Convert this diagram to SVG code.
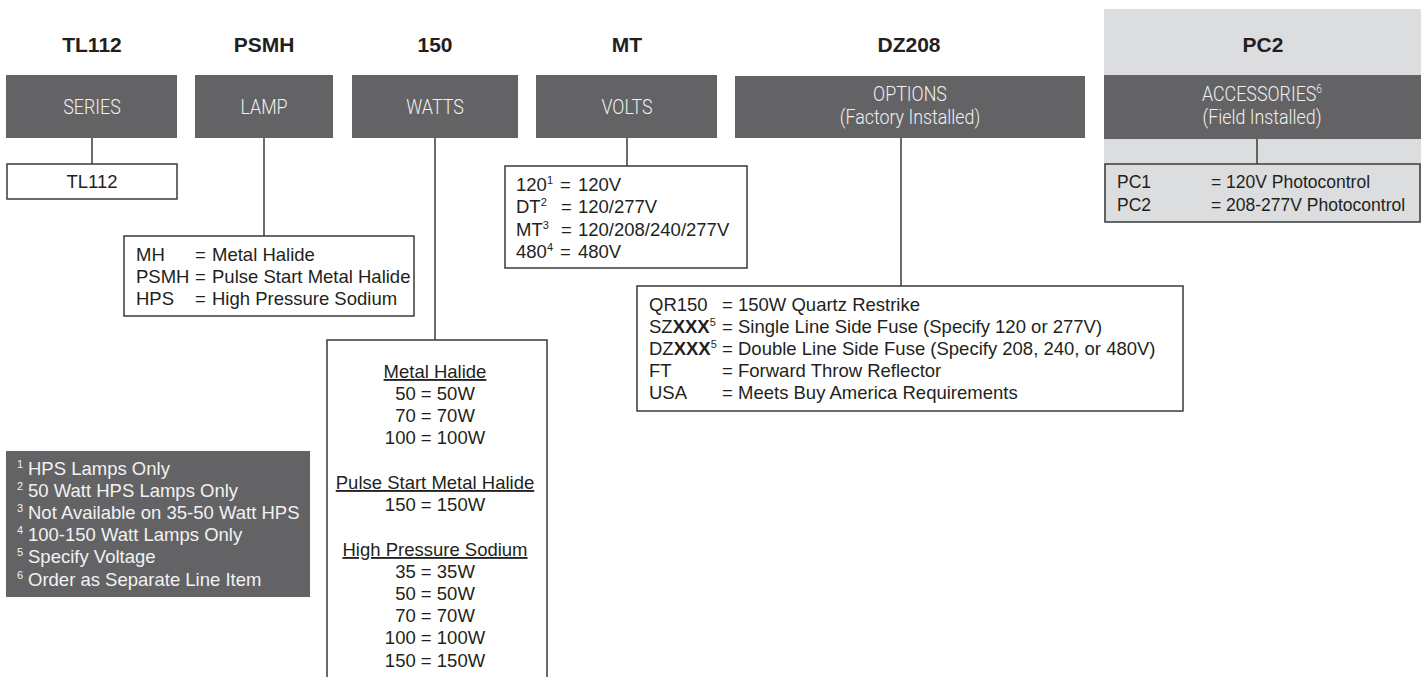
<svg xmlns="http://www.w3.org/2000/svg" width="1421" height="677" viewBox="0 0 1421 677">
<style>
.bg{fill:#ffffff}
.panel{fill:#dcdddf}
.hdr{fill:#636365}
.box{fill:#ffffff;stroke:#3a3a3a;stroke-width:1.5}
.pbox{fill:#dcdddf;stroke:#3a3a3a;stroke-width:1.5}
.code{font-family:"Liberation Sans",Arial,sans-serif;font-weight:bold;font-size:21px;fill:#231f20;text-anchor:middle}
.hd{font-family:Roboto,"Liberation Sans",sans-serif;font-weight:300;font-size:21px;fill:#f0f0f0;text-anchor:middle}
.t{font-family:"Liberation Sans",Arial,sans-serif;font-size:18.5px;fill:#231f20}
.ts{font-family:"Liberation Sans",Arial,sans-serif;font-size:17.5px;fill:#231f20}
.c{text-anchor:middle}
.fn{font-family:"Liberation Sans",Arial,sans-serif;font-size:18.5px;fill:#f2f2f2}
.fs{font-family:"Liberation Sans",Arial,sans-serif;font-size:11px;fill:#f2f2f2}
.u{text-decoration:underline}
.ln{stroke:#3a3a3a;stroke-width:1.5;fill:none}
</style>
<rect class="bg" x="0" y="0" width="1421" height="677"/>

<g id="accessories-panel">
<rect class="panel" x="1104" y="9" width="317" height="213"/>
</g>

<g id="connectors">
<line class="ln" x1="92" y1="138" x2="92" y2="164"/>
<line class="ln" x1="264" y1="138" x2="264" y2="236"/>
<line class="ln" x1="435" y1="138" x2="435" y2="340"/>
<line class="ln" x1="627" y1="138" x2="627" y2="166"/>
<line class="ln" x1="901" y1="138" x2="901" y2="286"/>
<line class="ln" x1="1257" y1="138" x2="1257" y2="164"/>
</g>

<g id="series">
<text class="code" x="92" y="52">TL112</text>
<rect class="hdr" x="6" y="75" width="171" height="63"/>
<text class="hd" transform="translate(92,114) scale(0.85,1)">SERIES</text>
<rect class="box" x="7" y="164" width="170" height="35"/>
<text class="t c" x="92" y="188">TL112</text>
</g>

<g id="lamp">
<text class="code" x="264" y="52">PSMH</text>
<rect class="hdr" x="195" y="75" width="138" height="63"/>
<text class="hd" transform="translate(264,114) scale(0.85,1)">LAMP</text>
<rect class="box" x="124" y="236" width="290" height="80"/>
<text class="t" x="136" y="261">MH</text><text class="t" x="195" y="261">=</text><text class="t" x="212" y="261">Metal Halide</text>
<text class="t" x="136" y="283">PSMH</text><text class="t" x="195" y="283">=</text><text class="t" x="212" y="283">Pulse Start Metal Halide</text>
<text class="t" x="136" y="305">HPS</text><text class="t" x="195" y="305">=</text><text class="t" x="212" y="305">High Pressure Sodium</text>
</g>

<g id="watts">
<text class="code" x="435" y="52">150</text>
<rect class="hdr" x="352" y="75" width="166" height="63"/>
<text class="hd" transform="translate(435,114) scale(0.85,1)">WATTS</text>
<rect class="box" x="327" y="340" width="220" height="360"/>
<text class="t c u" x="435" y="378">Metal Halide</text>
<text class="t c" x="435" y="400">50 = 50W</text>
<text class="t c" x="435" y="422">70 = 70W</text>
<text class="t c" x="435" y="444">100 = 100W</text>
<text class="t c u" x="435" y="489">Pulse Start Metal Halide</text>
<text class="t c" x="435" y="511">150 = 150W</text>
<text class="t c u" x="435" y="556">High Pressure Sodium</text>
<text class="t c" x="435" y="578">35 = 35W</text>
<text class="t c" x="435" y="600">50 = 50W</text>
<text class="t c" x="435" y="622">70 = 70W</text>
<text class="t c" x="435" y="644">100 = 100W</text>
<text class="t c" x="435" y="667">150 = 150W</text>
</g>

<g id="volts">
<text class="code" x="627" y="52">MT</text>
<rect class="hdr" x="536" y="75" width="181" height="63"/>
<text class="hd" transform="translate(627,114) scale(0.85,1)">VOLTS</text>
<rect class="box" x="505" y="166" width="242" height="102"/>
<text class="t" x="516" y="191">120<tspan font-size="11" dy="-7">1</tspan></text><text class="t" x="560" y="191">=</text><text class="t" x="578" y="191">120V</text>
<text class="t" x="516" y="213">DT<tspan font-size="11" dy="-7">2</tspan></text><text class="t" x="561" y="213">=</text><text class="t" x="578" y="213">120/277V</text>
<text class="t" x="516" y="236">MT<tspan font-size="11" dy="-7">3</tspan></text><text class="t" x="561" y="236">=</text><text class="t" x="578" y="236">120/208/240/277V</text>
<text class="t" x="516" y="258">480<tspan font-size="11" dy="-7">4</tspan></text><text class="t" x="560" y="258">=</text><text class="t" x="578" y="258">480V</text>
</g>

<g id="options">
<text class="code" x="909" y="52">DZ208</text>
<rect class="hdr" x="735" y="76" width="350" height="62"/>
<text class="hd" transform="translate(910,101) scale(0.85,1)">OPTIONS</text>
<text class="hd" transform="translate(910,124) scale(0.85,1)">(Factory Installed)</text>
<rect class="box" x="637" y="286" width="546" height="125"/>
<text class="t" x="649" y="311">QR150</text><text class="t" x="722" y="311">=</text><text class="t" x="738" y="311">150W Quartz Restrike</text>
<text class="t" x="649" y="333">SZ<tspan font-weight="bold">XXX</tspan><tspan font-size="11" dy="-7">5</tspan></text><text class="t" x="722" y="333">=</text><text class="t" x="738" y="333">Single Line Side Fuse (Specify 120 or 277V)</text>
<text class="t" x="649" y="355">DZ<tspan font-weight="bold">XXX</tspan><tspan font-size="11" dy="-7">5</tspan></text><text class="t" x="722" y="355">=</text><text class="t" x="738" y="355">Double Line Side Fuse (Specify 208, 240, or 480V)</text>
<text class="t" x="649" y="377">FT</text><text class="t" x="722" y="377">=</text><text class="t" x="738" y="377">Forward Throw Reflector</text>
<text class="t" x="649" y="399">USA</text><text class="t" x="722" y="399">=</text><text class="t" x="738" y="399">Meets Buy America Requirements</text>
</g>

<g id="accessories">
<text class="code" x="1263" y="52">PC2</text>
<rect class="hdr" x="1104" y="75" width="317" height="64"/>
<text class="hd" transform="translate(1262,101) scale(0.85,1)">ACCESSORIES<tspan font-size="12" dy="-8">6</tspan></text>
<text class="hd" transform="translate(1262,124) scale(0.85,1)">(Field Installed)</text>
<rect class="pbox" x="1105" y="164" width="315" height="58"/>
<text class="ts" x="1117" y="188">PC1</text><text class="ts" x="1211" y="188">= 120V Photocontrol</text>
<text class="ts" x="1117" y="211">PC2</text><text class="ts" x="1211" y="211">= 208-277V Photocontrol</text>
</g>

<g id="footnotes">
<rect class="hdr" x="6" y="451" width="304" height="146"/>
<text class="fs" x="17" y="468">1</text><text class="fn" x="28" y="475">HPS Lamps Only</text>
<text class="fs" x="17" y="490">2</text><text class="fn" x="28" y="497">50 Watt HPS Lamps Only</text>
<text class="fs" x="17" y="512">3</text><text class="fn" x="28" y="519">Not Available on 35-50 Watt HPS</text>
<text class="fs" x="17" y="534">4</text><text class="fn" x="28" y="541">100-150 Watt Lamps Only</text>
<text class="fs" x="17" y="556">5</text><text class="fn" x="28" y="563">Specify Voltage</text>
<text class="fs" x="17" y="579">6</text><text class="fn" x="28" y="586">Order as Separate Line Item</text>
</g>
</svg>
